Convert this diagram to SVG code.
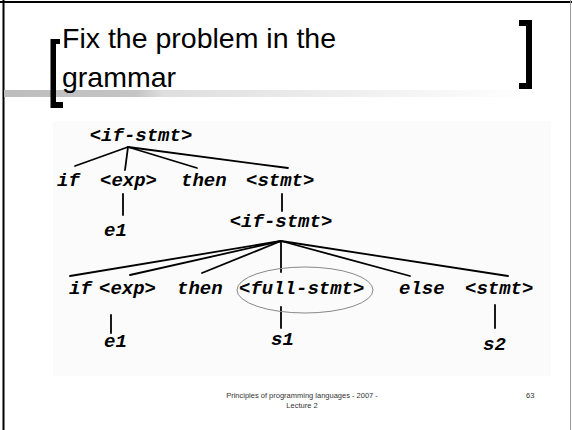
<svg xmlns="http://www.w3.org/2000/svg" width="572" height="430" viewBox="0 0 572 430">
<defs>
<linearGradient id="bar" x1="0" y1="0" x2="1" y2="0">
<stop offset="0" stop-color="#bdbdbd"/>
<stop offset="0.25" stop-color="#c4c4c4"/>
<stop offset="0.3" stop-color="#dedede"/>
<stop offset="1" stop-color="#ffffff"/>
</linearGradient>
<style>
.t{font-family:"Liberation Mono","Courier New",monospace;font-weight:bold;font-style:italic;font-size:19px;fill:#000}
.e{stroke:#000;stroke-width:1.8;fill:none;stroke-linecap:round}
.title{font-family:"Liberation Sans",Arial,sans-serif;font-size:28.5px;fill:#000}
.foot{font-family:"Liberation Sans",Arial,sans-serif;font-size:7.5px;fill:#333}
</style>
</defs>
<rect width="572" height="430" fill="#fff"/>
<line x1="0" y1="2" x2="572" y2="2" stroke="#000" stroke-width="2"/>
<line x1="3.5" y1="0" x2="3.5" y2="430" stroke="#000" stroke-width="2"/>
<line x1="570.5" y1="0" x2="570.5" y2="430" stroke="#9a9a9a" stroke-width="1"/>
<rect x="4" y="90" width="530" height="7" fill="url(#bar)"/>
<g id="title">
<path d="M50.5 39 H60 V44 H56 V102 H63 V108 H50.5 Z" fill="#000"/>
<path d="M519 20 H532 V89 H519 V83 H526 V26 H519 Z" fill="#000"/>
<text class="title" x="62" y="48">Fix the problem in the</text>
<text class="title" x="62" y="87">grammar</text>
</g>
<rect x="53" y="121" width="498" height="255" fill="#fbfbfb"/>
<g id="connectors">
<line class="e" x1="128" y1="147" x2="75" y2="166"/>
<line class="e" x1="128" y1="147" x2="125" y2="170"/>
<line class="e" x1="128" y1="147" x2="197" y2="168"/>
<line class="e" x1="128" y1="147" x2="288" y2="168"/>
<line class="e" x1="123" y1="194" x2="123" y2="215"/>
<line class="e" x1="282" y1="194" x2="282" y2="211"/>
<line class="e" x1="281" y1="241" x2="70" y2="276"/>
<line class="e" x1="281" y1="241" x2="130" y2="275"/>
<line class="e" x1="281" y1="241" x2="202" y2="273"/>
<line class="e" x1="281" y1="241" x2="281" y2="272"/>
<line class="e" x1="281" y1="241" x2="410" y2="276"/>
<line class="e" x1="281" y1="241" x2="508" y2="276"/>
<line class="e" x1="111" y1="315" x2="111" y2="333"/>
<line class="e" x1="281" y1="307" x2="281" y2="328"/>
<line class="e" x1="495" y1="305" x2="495" y2="328"/>
</g>
<g id="n-if-stmt-1"><text class="t" x="141" y="141" text-anchor="middle">&lt;if-stmt&gt;</text></g>
<g id="n-if-1"><text class="t" x="57" y="186">if</text></g>
<g id="n-exp-1"><text class="t" x="100" y="186">&lt;exp&gt;</text></g>
<g id="n-then-1"><text class="t" x="181" y="186">then</text></g>
<g id="n-stmt-1"><text class="t" x="246" y="186">&lt;stmt&gt;</text></g>
<g id="n-e1-1"><text class="t" x="104" y="236">e1</text></g>
<g id="n-if-stmt-2"><text class="t" x="281" y="227" text-anchor="middle">&lt;if-stmt&gt;</text></g>
<g id="n-if-2"><text class="t" x="69" y="294">if</text></g>
<g id="n-exp-2"><text class="t" x="99" y="294">&lt;exp&gt;</text></g>
<g id="n-then-2"><text class="t" x="177" y="294">then</text></g>
<g id="n-full-stmt"><text class="t" x="239" y="294">&lt;full-stmt&gt;</text>
<ellipse cx="305" cy="290" rx="68" ry="23" fill="none" stroke="#888" stroke-width="1"/></g>
<g id="n-else"><text class="t" x="399" y="294">else</text></g>
<g id="n-stmt-2"><text class="t" x="465" y="294">&lt;stmt&gt;</text></g>
<g id="n-e1-2"><text class="t" x="104" y="347">e1</text></g>
<g id="n-s1"><text class="t" x="271" y="345">s1</text></g>
<g id="n-s2"><text class="t" x="483" y="350">s2</text></g>
<g id="footer">
<text class="foot" x="302" y="398" text-anchor="middle">Principles of programming languages - 2007 -</text>
<text class="foot" x="302" y="408" text-anchor="middle">Lecture 2</text>
<text class="foot" x="526" y="398">63</text>
</g>
</svg>
